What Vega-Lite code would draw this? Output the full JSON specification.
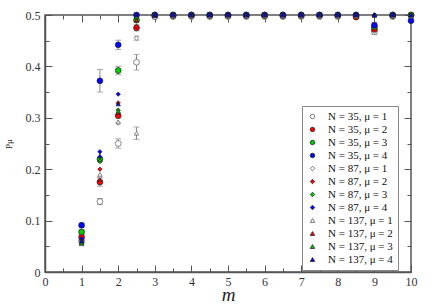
{
  "$schema": "https://vega.github.io/schema/vega-lite/v6.json",
  "autosize": {"type": "none"},
  "width": 366,
  "height": 257,
  "padding": {"left": 45, "top": 15, "right": 25, "bottom": 33},
  "background": "white",
  "config": {
    "view": {"stroke": "#555", "strokeWidth": 1.5},
    "font": "Liberation Serif",
    "axis": {"grid": false, "labelFont": "Liberation Serif", "labelFontSize": 12, "labelColor": "#333", "tickColor": "#555", "domainColor": "#555", "domainWidth": 1.5, "tickWidth": 1, "labelFlush": false}
  },
  "datasets": {"pts": [
    {"m":1,"s":"N = 35, μ = 1","p":0.060,"e":0.004},{"m":1,"s":"N = 35, μ = 2","p":0.068,"e":0.004},{"m":1,"s":"N = 35, μ = 3","p":0.078,"e":0.004},{"m":1,"s":"N = 35, μ = 4","p":0.091,"e":0.004},
    {"m":1,"s":"N = 87, μ = 1","p":0.058,"e":0},{"m":1,"s":"N = 87, μ = 2","p":0.062,"e":0},{"m":1,"s":"N = 87, μ = 3","p":0.060,"e":0},{"m":1,"s":"N = 87, μ = 4","p":0.065,"e":0},
    {"m":1,"s":"N = 137, μ = 1","p":0.055,"e":0},{"m":1,"s":"N = 137, μ = 2","p":0.057,"e":0},{"m":1,"s":"N = 137, μ = 3","p":0.056,"e":0},{"m":1,"s":"N = 137, μ = 4","p":0.060,"e":0},
    {"m":1.5,"s":"N = 35, μ = 1","p":0.137,"e":0.006},{"m":1.5,"s":"N = 35, μ = 2","p":0.175,"e":0.008},{"m":1.5,"s":"N = 35, μ = 3","p":0.220,"e":0},{"m":1.5,"s":"N = 35, μ = 4","p":0.372,"e":0.022},
    {"m":1.5,"s":"N = 87, μ = 1","p":0.185,"e":0},{"m":1.5,"s":"N = 87, μ = 2","p":0.200,"e":0},{"m":1.5,"s":"N = 87, μ = 3","p":0.215,"e":0},{"m":1.5,"s":"N = 87, μ = 4","p":0.234,"e":0},
    {"m":1.5,"s":"N = 137, μ = 1","p":0.190,"e":0},{"m":1.5,"s":"N = 137, μ = 2","p":0.180,"e":0},{"m":1.5,"s":"N = 137, μ = 3","p":0.218,"e":0},{"m":1.5,"s":"N = 137, μ = 4","p":0.226,"e":0},
    {"m":2,"s":"N = 35, μ = 1","p":0.250,"e":0.009},{"m":2,"s":"N = 35, μ = 2","p":0.304,"e":0},{"m":2,"s":"N = 35, μ = 3","p":0.392,"e":0.008},{"m":2,"s":"N = 35, μ = 4","p":0.442,"e":0.009},
    {"m":2,"s":"N = 87, μ = 1","p":0.290,"e":0},{"m":2,"s":"N = 87, μ = 2","p":0.329,"e":0},{"m":2,"s":"N = 87, μ = 3","p":0.315,"e":0},{"m":2,"s":"N = 87, μ = 4","p":0.346,"e":0},
    {"m":2,"s":"N = 137, μ = 1","p":0.292,"e":0},{"m":2,"s":"N = 137, μ = 2","p":0.310,"e":0},{"m":2,"s":"N = 137, μ = 3","p":0.313,"e":0},{"m":2,"s":"N = 137, μ = 4","p":0.327,"e":0},
    {"m":2.5,"s":"N = 35, μ = 1","p":0.408,"e":0.015},{"m":2.5,"s":"N = 35, μ = 2","p":0.475,"e":0.006},{"m":2.5,"s":"N = 35, μ = 3","p":0.490,"e":0},{"m":2.5,"s":"N = 35, μ = 4","p":0.500,"e":0},
    {"m":2.5,"s":"N = 87, μ = 1","p":0.455,"e":0.004},{"m":2.5,"s":"N = 87, μ = 2","p":0.478,"e":0},{"m":2.5,"s":"N = 87, μ = 3","p":0.495,"e":0},{"m":2.5,"s":"N = 87, μ = 4","p":0.499,"e":0},
    {"m":2.5,"s":"N = 137, μ = 1","p":0.270,"e":0.012},{"m":2.5,"s":"N = 137, μ = 2","p":0.490,"e":0},{"m":2.5,"s":"N = 137, μ = 3","p":0.497,"e":0},{"m":2.5,"s":"N = 137, μ = 4","p":0.500,"e":0},
    {"m":3,"s":"N = 35, μ = 1","p":0.497,"e":0},{"m":3,"s":"N = 35, μ = 2","p":0.499,"e":0},{"m":3,"s":"N = 35, μ = 3","p":0.500,"e":0},{"m":3,"s":"N = 35, μ = 4","p":0.500,"e":0},
    {"m":3,"s":"N = 87, μ = 1","p":0.498,"e":0},{"m":3,"s":"N = 87, μ = 2","p":0.500,"e":0},{"m":3,"s":"N = 87, μ = 3","p":0.500,"e":0},{"m":3,"s":"N = 87, μ = 4","p":0.500,"e":0},
    {"m":3,"s":"N = 137, μ = 1","p":0.496,"e":0},{"m":3,"s":"N = 137, μ = 2","p":0.499,"e":0},{"m":3,"s":"N = 137, μ = 3","p":0.500,"e":0},{"m":3,"s":"N = 137, μ = 4","p":0.500,"e":0},
    {"m":3.5,"s":"N = 35, μ = 1","p":0.497,"e":0},{"m":3.5,"s":"N = 35, μ = 2","p":0.499,"e":0},{"m":3.5,"s":"N = 35, μ = 3","p":0.500,"e":0},{"m":3.5,"s":"N = 35, μ = 4","p":0.500,"e":0},
    {"m":3.5,"s":"N = 87, μ = 1","p":0.498,"e":0},{"m":3.5,"s":"N = 87, μ = 2","p":0.500,"e":0},{"m":3.5,"s":"N = 87, μ = 3","p":0.500,"e":0},{"m":3.5,"s":"N = 87, μ = 4","p":0.500,"e":0},
    {"m":3.5,"s":"N = 137, μ = 1","p":0.498,"e":0},{"m":3.5,"s":"N = 137, μ = 2","p":0.500,"e":0},{"m":3.5,"s":"N = 137, μ = 3","p":0.500,"e":0},{"m":3.5,"s":"N = 137, μ = 4","p":0.500,"e":0},
    {"m":4,"s":"N = 35, μ = 1","p":0.497,"e":0},{"m":4,"s":"N = 35, μ = 2","p":0.499,"e":0},{"m":4,"s":"N = 35, μ = 3","p":0.500,"e":0},{"m":4,"s":"N = 35, μ = 4","p":0.500,"e":0},
    {"m":4,"s":"N = 87, μ = 1","p":0.498,"e":0},{"m":4,"s":"N = 87, μ = 2","p":0.500,"e":0},{"m":4,"s":"N = 87, μ = 3","p":0.500,"e":0},{"m":4,"s":"N = 87, μ = 4","p":0.500,"e":0},
    {"m":4,"s":"N = 137, μ = 1","p":0.498,"e":0},{"m":4,"s":"N = 137, μ = 2","p":0.500,"e":0},{"m":4,"s":"N = 137, μ = 3","p":0.500,"e":0},{"m":4,"s":"N = 137, μ = 4","p":0.500,"e":0},
    {"m":4.5,"s":"N = 35, μ = 1","p":0.497,"e":0},{"m":4.5,"s":"N = 35, μ = 2","p":0.499,"e":0},{"m":4.5,"s":"N = 35, μ = 3","p":0.500,"e":0},{"m":4.5,"s":"N = 35, μ = 4","p":0.500,"e":0},
    {"m":4.5,"s":"N = 87, μ = 1","p":0.498,"e":0},{"m":4.5,"s":"N = 87, μ = 2","p":0.500,"e":0},{"m":4.5,"s":"N = 87, μ = 3","p":0.500,"e":0},{"m":4.5,"s":"N = 87, μ = 4","p":0.500,"e":0},
    {"m":4.5,"s":"N = 137, μ = 1","p":0.498,"e":0},{"m":4.5,"s":"N = 137, μ = 2","p":0.500,"e":0},{"m":4.5,"s":"N = 137, μ = 3","p":0.500,"e":0},{"m":4.5,"s":"N = 137, μ = 4","p":0.500,"e":0},
    {"m":5,"s":"N = 35, μ = 1","p":0.497,"e":0},{"m":5,"s":"N = 35, μ = 2","p":0.499,"e":0},{"m":5,"s":"N = 35, μ = 3","p":0.500,"e":0},{"m":5,"s":"N = 35, μ = 4","p":0.500,"e":0},
    {"m":5,"s":"N = 87, μ = 1","p":0.498,"e":0},{"m":5,"s":"N = 87, μ = 2","p":0.500,"e":0},{"m":5,"s":"N = 87, μ = 3","p":0.500,"e":0},{"m":5,"s":"N = 87, μ = 4","p":0.500,"e":0},
    {"m":5,"s":"N = 137, μ = 1","p":0.498,"e":0},{"m":5,"s":"N = 137, μ = 2","p":0.500,"e":0},{"m":5,"s":"N = 137, μ = 3","p":0.500,"e":0},{"m":5,"s":"N = 137, μ = 4","p":0.500,"e":0},
    {"m":5.5,"s":"N = 35, μ = 1","p":0.497,"e":0},{"m":5.5,"s":"N = 35, μ = 2","p":0.499,"e":0},{"m":5.5,"s":"N = 35, μ = 3","p":0.500,"e":0},{"m":5.5,"s":"N = 35, μ = 4","p":0.500,"e":0},
    {"m":5.5,"s":"N = 87, μ = 1","p":0.498,"e":0},{"m":5.5,"s":"N = 87, μ = 2","p":0.500,"e":0},{"m":5.5,"s":"N = 87, μ = 3","p":0.500,"e":0},{"m":5.5,"s":"N = 87, μ = 4","p":0.500,"e":0},
    {"m":5.5,"s":"N = 137, μ = 1","p":0.498,"e":0},{"m":5.5,"s":"N = 137, μ = 2","p":0.500,"e":0},{"m":5.5,"s":"N = 137, μ = 3","p":0.500,"e":0},{"m":5.5,"s":"N = 137, μ = 4","p":0.500,"e":0},
    {"m":6,"s":"N = 35, μ = 1","p":0.497,"e":0},{"m":6,"s":"N = 35, μ = 2","p":0.499,"e":0},{"m":6,"s":"N = 35, μ = 3","p":0.500,"e":0},{"m":6,"s":"N = 35, μ = 4","p":0.500,"e":0},
    {"m":6,"s":"N = 87, μ = 1","p":0.498,"e":0},{"m":6,"s":"N = 87, μ = 2","p":0.500,"e":0},{"m":6,"s":"N = 87, μ = 3","p":0.500,"e":0},{"m":6,"s":"N = 87, μ = 4","p":0.500,"e":0},
    {"m":6,"s":"N = 137, μ = 1","p":0.498,"e":0},{"m":6,"s":"N = 137, μ = 2","p":0.500,"e":0},{"m":6,"s":"N = 137, μ = 3","p":0.500,"e":0},{"m":6,"s":"N = 137, μ = 4","p":0.500,"e":0},
    {"m":6.5,"s":"N = 35, μ = 1","p":0.497,"e":0},{"m":6.5,"s":"N = 35, μ = 2","p":0.499,"e":0},{"m":6.5,"s":"N = 35, μ = 3","p":0.500,"e":0},{"m":6.5,"s":"N = 35, μ = 4","p":0.500,"e":0},
    {"m":6.5,"s":"N = 87, μ = 1","p":0.498,"e":0},{"m":6.5,"s":"N = 87, μ = 2","p":0.500,"e":0},{"m":6.5,"s":"N = 87, μ = 3","p":0.500,"e":0},{"m":6.5,"s":"N = 87, μ = 4","p":0.500,"e":0},
    {"m":6.5,"s":"N = 137, μ = 1","p":0.498,"e":0},{"m":6.5,"s":"N = 137, μ = 2","p":0.500,"e":0},{"m":6.5,"s":"N = 137, μ = 3","p":0.500,"e":0},{"m":6.5,"s":"N = 137, μ = 4","p":0.500,"e":0},
    {"m":7,"s":"N = 35, μ = 1","p":0.497,"e":0},{"m":7,"s":"N = 35, μ = 2","p":0.499,"e":0},{"m":7,"s":"N = 35, μ = 3","p":0.500,"e":0},{"m":7,"s":"N = 35, μ = 4","p":0.500,"e":0},
    {"m":7,"s":"N = 87, μ = 1","p":0.498,"e":0},{"m":7,"s":"N = 87, μ = 2","p":0.500,"e":0},{"m":7,"s":"N = 87, μ = 3","p":0.500,"e":0},{"m":7,"s":"N = 87, μ = 4","p":0.500,"e":0},
    {"m":7,"s":"N = 137, μ = 1","p":0.498,"e":0},{"m":7,"s":"N = 137, μ = 2","p":0.500,"e":0},{"m":7,"s":"N = 137, μ = 3","p":0.500,"e":0},{"m":7,"s":"N = 137, μ = 4","p":0.500,"e":0},
    {"m":7.5,"s":"N = 35, μ = 1","p":0.497,"e":0},{"m":7.5,"s":"N = 35, μ = 2","p":0.499,"e":0},{"m":7.5,"s":"N = 35, μ = 3","p":0.500,"e":0},{"m":7.5,"s":"N = 35, μ = 4","p":0.500,"e":0},
    {"m":7.5,"s":"N = 87, μ = 1","p":0.498,"e":0},{"m":7.5,"s":"N = 87, μ = 2","p":0.500,"e":0},{"m":7.5,"s":"N = 87, μ = 3","p":0.500,"e":0},{"m":7.5,"s":"N = 87, μ = 4","p":0.500,"e":0},
    {"m":7.5,"s":"N = 137, μ = 1","p":0.498,"e":0},{"m":7.5,"s":"N = 137, μ = 2","p":0.500,"e":0},{"m":7.5,"s":"N = 137, μ = 3","p":0.500,"e":0},{"m":7.5,"s":"N = 137, μ = 4","p":0.500,"e":0},
    {"m":8,"s":"N = 35, μ = 1","p":0.497,"e":0},{"m":8,"s":"N = 35, μ = 2","p":0.499,"e":0},{"m":8,"s":"N = 35, μ = 3","p":0.500,"e":0},{"m":8,"s":"N = 35, μ = 4","p":0.500,"e":0},
    {"m":8,"s":"N = 87, μ = 1","p":0.498,"e":0},{"m":8,"s":"N = 87, μ = 2","p":0.500,"e":0},{"m":8,"s":"N = 87, μ = 3","p":0.500,"e":0},{"m":8,"s":"N = 87, μ = 4","p":0.500,"e":0},
    {"m":8,"s":"N = 137, μ = 1","p":0.498,"e":0},{"m":8,"s":"N = 137, μ = 2","p":0.500,"e":0},{"m":8,"s":"N = 137, μ = 3","p":0.500,"e":0},{"m":8,"s":"N = 137, μ = 4","p":0.500,"e":0},
    {"m":8.5,"s":"N = 35, μ = 1","p":0.497,"e":0},{"m":8.5,"s":"N = 35, μ = 2","p":0.496,"e":0},{"m":8.5,"s":"N = 35, μ = 3","p":0.500,"e":0},{"m":8.5,"s":"N = 35, μ = 4","p":0.500,"e":0},
    {"m":8.5,"s":"N = 87, μ = 1","p":0.498,"e":0},{"m":8.5,"s":"N = 87, μ = 2","p":0.500,"e":0},{"m":8.5,"s":"N = 87, μ = 3","p":0.500,"e":0},{"m":8.5,"s":"N = 87, μ = 4","p":0.500,"e":0},
    {"m":8.5,"s":"N = 137, μ = 1","p":0.498,"e":0},{"m":8.5,"s":"N = 137, μ = 2","p":0.500,"e":0},{"m":8.5,"s":"N = 137, μ = 3","p":0.500,"e":0},{"m":8.5,"s":"N = 137, μ = 4","p":0.500,"e":0},
    {"m":9,"s":"N = 35, μ = 1","p":0.468,"e":0.006},{"m":9,"s":"N = 35, μ = 2","p":0.472,"e":0.006},{"m":9,"s":"N = 35, μ = 3","p":0.477,"e":0.006},{"m":9,"s":"N = 35, μ = 4","p":0.480,"e":0.006},
    {"m":9,"s":"N = 87, μ = 1","p":0.499,"e":0},{"m":9,"s":"N = 87, μ = 2","p":0.500,"e":0},{"m":9,"s":"N = 87, μ = 3","p":0.500,"e":0},{"m":9,"s":"N = 87, μ = 4","p":0.500,"e":0},
    {"m":9,"s":"N = 137, μ = 1","p":0.499,"e":0},{"m":9,"s":"N = 137, μ = 2","p":0.500,"e":0},{"m":9,"s":"N = 137, μ = 3","p":0.500,"e":0},{"m":9,"s":"N = 137, μ = 4","p":0.500,"e":0},
    {"m":9.5,"s":"N = 35, μ = 1","p":0.497,"e":0},{"m":9.5,"s":"N = 35, μ = 2","p":0.499,"e":0},{"m":9.5,"s":"N = 35, μ = 3","p":0.500,"e":0},{"m":9.5,"s":"N = 35, μ = 4","p":0.500,"e":0},
    {"m":9.5,"s":"N = 87, μ = 1","p":0.498,"e":0},{"m":9.5,"s":"N = 87, μ = 2","p":0.500,"e":0},{"m":9.5,"s":"N = 87, μ = 3","p":0.500,"e":0},{"m":9.5,"s":"N = 87, μ = 4","p":0.500,"e":0},
    {"m":9.5,"s":"N = 137, μ = 1","p":0.498,"e":0},{"m":9.5,"s":"N = 137, μ = 2","p":0.500,"e":0},{"m":9.5,"s":"N = 137, μ = 3","p":0.500,"e":0},{"m":9.5,"s":"N = 137, μ = 4","p":0.500,"e":0},
    {"m":10,"s":"N = 35, μ = 1","p":0.499,"e":0},{"m":10,"s":"N = 35, μ = 2","p":0.500,"e":0},{"m":10,"s":"N = 35, μ = 3","p":0.500,"e":0},{"m":10,"s":"N = 35, μ = 4","p":0.489,"e":0},
    {"m":10,"s":"N = 87, μ = 1","p":0.498,"e":0},{"m":10,"s":"N = 87, μ = 2","p":0.500,"e":0},{"m":10,"s":"N = 87, μ = 3","p":0.500,"e":0},{"m":10,"s":"N = 87, μ = 4","p":0.500,"e":0},
    {"m":10,"s":"N = 137, μ = 1","p":0.498,"e":0},{"m":10,"s":"N = 137, μ = 2","p":0.500,"e":0},{"m":10,"s":"N = 137, μ = 3","p":0.500,"e":0},{"m":10,"s":"N = 137, μ = 4","p":0.500,"e":0}
  ]},
  "data": {"name": "pts"},
  "layer": [
    {
      "encoding": {
        "x": {"field": "m", "type": "quantitative", "title": "m", "scale": {"domain": [0, 10], "nice": false, "zero": false},
          "axis": {"orient": "bottom", "values": [0,0.5,1,1.5,2,2.5,3,3.5,4,4.5,5,5.5,6,6.5,7,7.5,8,8.5,9,9.5,10],
            "labelExpr": "datum.value % 1 === 0 ? format(datum.value, 'd') : ''",
            "tickSize": {"condition": {"test": "datum.value % 1 !== 0", "value": -4}, "value": -7},
            "labelPadding": 11, "title": "m", "titleFont": "Liberation Serif", "titleFontStyle": "italic", "titleFontWeight": "normal", "titleFontSize": 19, "titleColor": "#222", "titlePadding": -2}},
        "y": {"field": "p", "type": "quantitative", "title": "Pμ", "scale": {"domain": [0, 0.5], "nice": false},
          "axis": {"orient": "left", "values": [0,0.05,0.1,0.15,0.2,0.25,0.3,0.35,0.4,0.45,0.5],
            "labelExpr": "round(datum.value*100) % 10 === 0 ? format(datum.value, '~g') : ''",
            "tickSize": {"condition": {"test": "round(datum.value*100) % 10 !== 0", "value": -4}, "value": -7},
            "labelPadding": 12, "title": "Pμ", "titleFont": "Liberation Serif", "titleFontWeight": "normal", "titleFontSize": 9, "titleColor": "#222", "titlePadding": 12}}
      },
      "layer": [
        {
          "transform": [{"filter": "datum.e > 0"}],
          "mark": {"type": "errorbar", "ticks": {"size": 6, "color": "#888"}, "rule": {"color": "#888"}, "clip": false},
          "encoding": {
            "yError": {"field": "e"}
          }
        },
        {
          "mark": {"type": "point", "filled": true, "strokeWidth": 0.7, "opacity": 1, "clip": false},
          "encoding": {
            "size": {"condition": {"test": "indexof(datum.s, 'N = 35,') === 0", "value": 34}, "value": 19},
            "shape": {"field": "s", "type": "nominal", "sort": null,
              "scale": {"domain": ["N = 35, μ = 1","N = 35, μ = 2","N = 35, μ = 3","N = 35, μ = 4","N = 87, μ = 1","N = 87, μ = 2","N = 87, μ = 3","N = 87, μ = 4","N = 137, μ = 1","N = 137, μ = 2","N = 137, μ = 3","N = 137, μ = 4"],
                "range": ["circle","circle","circle","circle","diamond","diamond","diamond","diamond","triangle-up","triangle-up","triangle-up","triangle-up"]},
              "legend": {"orient": "none", "legendX": 257, "legendY": 91, "title": null, "direction": "vertical", "fillColor": "white", "strokeColor": "#888", "padding": 5, "labelFont": "Liberation Serif", "labelFontSize": 11, "labelColor": "#111", "labelAlign": "left", "symbolSize": 20, "symbolStrokeWidth": 0.8, "rowPadding": 1, "labelOffset": 10}},
            "fill": {"field": "s", "type": "nominal", "sort": null,
              "scale": {"domain": ["N = 35, μ = 1","N = 35, μ = 2","N = 35, μ = 3","N = 35, μ = 4","N = 87, μ = 1","N = 87, μ = 2","N = 87, μ = 3","N = 87, μ = 4","N = 137, μ = 1","N = 137, μ = 2","N = 137, μ = 3","N = 137, μ = 4"],
                "range": ["white","#ff0000","#00cc00","#0000ff","white","#ff0000","#00cc00","#0000ff","white","#ff0000","#00cc00","#0000ff"]},
              "legend": {"orient": "none", "legendX": 257, "legendY": 91, "title": null, "direction": "vertical", "fillColor": "white", "strokeColor": "#888", "padding": 5, "labelFont": "Liberation Serif", "labelFontSize": 11, "labelColor": "#111", "labelAlign": "left", "symbolSize": 20, "symbolStrokeWidth": 0.8, "rowPadding": 1, "labelOffset": 10}},
            "stroke": {"field": "s", "type": "nominal", "sort": null,
              "scale": {"domain": ["N = 35, μ = 1","N = 35, μ = 2","N = 35, μ = 3","N = 35, μ = 4","N = 87, μ = 1","N = 87, μ = 2","N = 87, μ = 3","N = 87, μ = 4","N = 137, μ = 1","N = 137, μ = 2","N = 137, μ = 3","N = 137, μ = 4"],
                "range": ["#555","#222","#222","#222","#555","#222","#222","#222","#555","#222","#222","#222"]},
              "legend": {"orient": "none", "legendX": 257, "legendY": 91, "title": null, "direction": "vertical", "fillColor": "white", "strokeColor": "#888", "padding": 5, "labelFont": "Liberation Serif", "labelFontSize": 11, "labelColor": "#111", "labelAlign": "left", "symbolSize": 20, "symbolStrokeWidth": 0.8, "rowPadding": 1, "labelOffset": 10}}
          }
        }
      ]
    },
    {
      "mark": {"type": "point", "opacity": 0},
      "encoding": {
        "x": {"field": "m", "type": "quantitative",
          "axis": {"orient": "top", "values": [0,0.5,1,1.5,2,2.5,3,3.5,4,4.5,5,5.5,6,6.5,7,7.5,8,8.5,9,9.5,10], "labels": false, "domain": false, "title": null,
            "tickSize": {"condition": {"test": "datum.value % 1 !== 0", "value": -4}, "value": -7}}},
        "y": {"field": "p", "type": "quantitative",
          "axis": {"orient": "right", "values": [0,0.05,0.1,0.15,0.2,0.25,0.3,0.35,0.4,0.45,0.5], "labels": false, "domain": false, "title": null,
            "tickSize": {"condition": {"test": "round(datum.value*100) % 10 !== 0", "value": -4}, "value": -7}}}
      }
    }
  ],
  "resolve": {"axis": {"x": "independent", "y": "independent"}}
}
